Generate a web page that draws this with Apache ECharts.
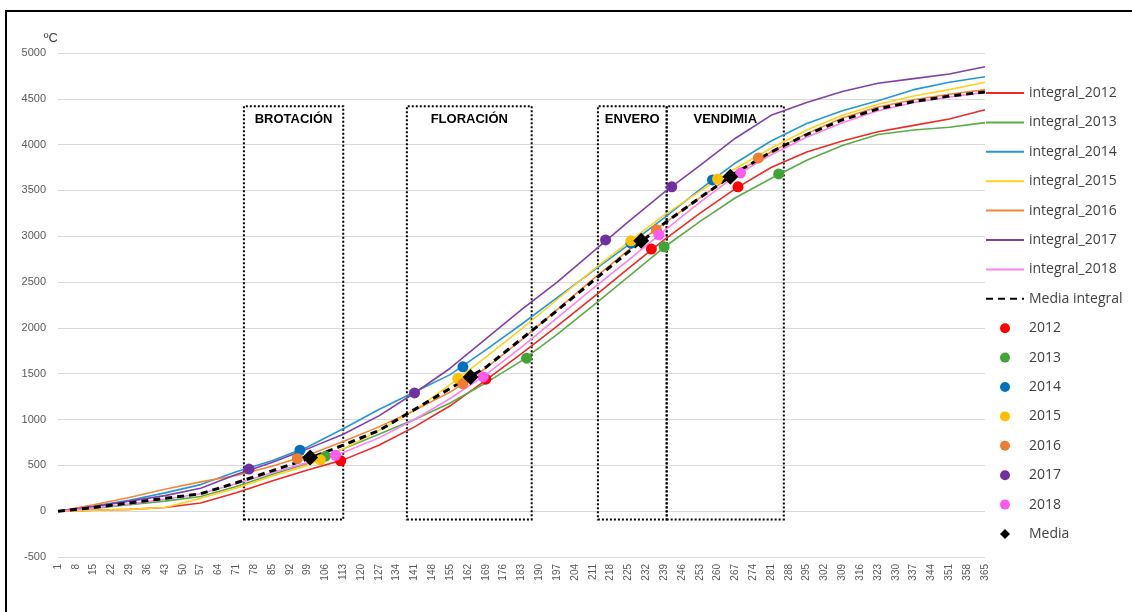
<!DOCTYPE html>
<html>
<head>
<meta charset="utf-8">
<script src="https://cdn.jsdelivr.net/npm/echarts@6/dist/echarts.min.js"></script>
<style>
  html, body { margin: 0; padding: 0; background: #fff; overflow: hidden; }
  #chart { width: 1132px; height: 612px; }
  #frame { position: absolute; left: 5px; top: 10px; width: 1400px; height: 900px;
           border-left: 2px solid #000; border-top: 2px solid #000; pointer-events: none; }
</style>
</head>
<body>
<div id="chart"></div>
<div id="frame"></div>
<script>
// Day of year for the sampled cumulative values
const sampleDays = [1, 15, 29, 43, 57, 71, 85, 99, 113, 127, 141, 155, 169, 183, 197, 211, 225, 239, 253, 267, 281, 295, 309, 323, 337, 351, 365];

// Cumulative thermal integral (ºC) per season
const integral2012 = [0, 10, 20, 40, 90, 200, 330, 450, 560, 720, 920, 1150, 1430, 1720, 2020, 2330, 2650, 2960, 3250, 3520, 3750, 3920, 4040, 4140, 4210, 4280, 4380];
const integral2013 = [0, 30, 70, 110, 160, 270, 400, 520, 680, 840, 1000, 1180, 1400, 1640, 1930, 2240, 2560, 2880, 3160, 3420, 3630, 3830, 3990, 4110, 4160, 4190, 4240];
const integral2014 = [0, 55, 120, 200, 290, 430, 550, 700, 900, 1110, 1300, 1490, 1760, 2040, 2330, 2620, 2905, 3200, 3510, 3800, 4040, 4230, 4370, 4480, 4600, 4680, 4740];
const integral2015 = [0, 10, 20, 40, 140, 250, 380, 500, 680, 880, 1100, 1380, 1680, 1990, 2310, 2630, 2935, 3230, 3490, 3740, 3960, 4160, 4320, 4440, 4530, 4600, 4680];
const integral2016 = [0, 70, 150, 240, 320, 390, 490, 610, 760, 920, 1100, 1300, 1560, 1870, 2200, 2530, 2850, 3140, 3420, 3690, 3920, 4120, 4290, 4410, 4490, 4550, 4600];
const integral2017 = [0, 50, 110, 170, 250, 400, 530, 680, 840, 1040, 1290, 1560, 1880, 2200, 2500, 2830, 3160, 3480, 3770, 4070, 4320, 4460, 4580, 4670, 4720, 4770, 4850];
const integral2018 = [0, 35, 80, 130, 190, 300, 420, 530, 640, 800, 1000, 1230, 1490, 1790, 2110, 2430, 2740, 3060, 3370, 3660, 3890, 4080, 4240, 4370, 4460, 4520, 4570];
const integralMedia = [0, 40, 90, 140, 190, 310, 440, 570, 720, 880, 1110, 1340, 1570, 1880, 2190, 2510, 2830, 3140, 3420, 3690, 3920, 4110, 4270, 4390, 4470, 4530, 4575];

// Phenological stages [day, ºC]: brotación, floración, envero, vendimia
const points2012 = [[112, 550], [169, 1440], [234, 2860], [268, 3540]];
const points2013 = [[106, 600], [185, 1670], [239, 2885], [284, 3680]];
const points2014 = [[96, 665], [160, 1575], [226, 2925], [258, 3615]];
const points2015 = [[104, 560], [158, 1450], [226, 2950], [260, 3625]];
const points2016 = [[95, 575], [160, 1390], [236, 3070], [276, 3855]];
const points2017 = [[76, 460], [141, 1290], [216, 2960], [242, 3540]];
const points2018 = [[110, 610], [168, 1465], [237, 3015], [269, 3690]];
const pointsMedia = [[100, 585], [163, 1465], [230, 2950], [265, 3650]];

// Stage windows [first day, last day]
const stageNames = ['BROTACIÓN', 'FLORACIÓN', 'ENVERO', 'VENDIMIA'];
const stageDays = [[74, 113], [138, 187], [213, 240], [240, 286]];
const stageRange = [-90, 4420];

// Axis
const dayLabels = Array.from({ length: 365 }, (_, i) => String(i + 1));
const yTicks = { min: -500, max: 5000, interval: 500 };

const years = ['2012', '2013', '2014', '2015', '2016', '2017', '2018'];
const lineValues = [integral2012, integral2013, integral2014, integral2015, integral2016, integral2017, integral2018];
const pointValues = [points2012, points2013, points2014, points2015, points2016, points2017, points2018];
const lineColors = ['#ee2a24', '#5aac46', '#2596d6', '#ffd21f', '#f4863a', '#8040a8', '#ff80f0'];
const dotColors = ['#ff0000', '#3fa535', '#0070c0', '#ffc000', '#ed7d31', '#7030a0', '#ff5bf0'];

const toPairs = (vals) => vals.map((v, i) => [String(sampleDays[i]), v]);
const toPoints = (pts) => pts.map(p => [String(p[0]), p[1]]);

const series = [];
years.forEach((y, k) => {
  series.push({
    name: 'integral_' + y, type: 'line', data: toPairs(lineValues[k]),
    symbol: 'none', lineStyle: { width: 1.6, color: lineColors[k] },
    itemStyle: { color: lineColors[k] }, z: 2
  });
});
series.push({
  name: 'Media integral', type: 'line', data: toPairs(integralMedia),
  symbol: 'none', lineStyle: { width: 3, color: '#000', type: [7, 5] },
  itemStyle: { color: '#000' }, z: 3,
  markArea: {
    silent: true,
    itemStyle: { color: 'rgba(0,0,0,0)', borderColor: '#000', borderWidth: 2, borderType: [2, 2] },
    label: { position: 'insideTop', distance: 8, color: '#000', fontWeight: 'bold', fontSize: 13,
             fontFamily: 'Liberation Sans, Arial, sans-serif' },
    data: stageNames.map((n, i) => [
      { name: n, xAxis: String(stageDays[i][0]), yAxis: stageRange[0] },
      { xAxis: String(stageDays[i][1]), yAxis: stageRange[1] }
    ])
  }
});
years.forEach((y, k) => {
  series.push({
    name: y, type: 'scatter', data: toPoints(pointValues[k]),
    symbol: 'circle', symbolSize: 11, itemStyle: { color: dotColors[k], opacity: 1 }, z: 4
  });
});
series.push({
  name: 'Media', type: 'scatter', data: toPoints(pointsMedia),
  symbol: 'diamond', symbolSize: 16, symbolKeepAspect: true,
  itemStyle: { color: '#000', opacity: 1 }, z: 5
});

// Line entries show only their stroke in the legend
const lineLegend = years.map(y => 'integral_' + y).concat(['Media integral'])
  .map(n => ({ name: n, itemStyle: { color: 'rgba(0,0,0,0)', borderWidth: 0, opacity: 0 } }));
const dotLegend = years.map(n => ({ name: n })).concat([
  { name: 'Media', icon: 'path://M5,0 L10,5 L5,10 L0,5 Z' }
]);

const chart = echarts.init(document.getElementById('chart'), null, { renderer: 'canvas' });
chart.setOption({
  animation: false,
  backgroundColor: '#fff',
  textStyle: { fontFamily: 'Liberation Sans, Arial, sans-serif' },
  grid: { left: 58, right: 147, top: 53, bottom: 55 },
  legend: {
    data: lineLegend.concat(dotLegend),
    orient: 'vertical', left: 985, top: 85, padding: 0,
    itemWidth: 38, itemHeight: 10, itemGap: 13.4, symbolKeepAspect: true,
    textStyle: { fontSize: 14, color: '#404040', lineHeight: 16, fontFamily: 'Open Sans, sans-serif' },
    selectedMode: false
  },
  xAxis: {
    type: 'category', data: dayLabels, boundaryGap: false,
    axisLine: { show: false }, axisTick: { show: false },
    axisLabel: { interval: 6, rotate: 90, fontSize: 10, color: '#595959', margin: 7 },
    splitLine: { show: false }
  },
  yAxis: {
    type: 'value', min: yTicks.min, max: yTicks.max, interval: yTicks.interval,
    name: 'ºC', nameGap: 8,
    nameTextStyle: { align: 'right', color: '#404040', fontSize: 13, padding: [0, 0, 0, 0] },
    axisLine: { show: false }, axisTick: { show: false },
    axisLabel: { fontSize: 11, color: '#595959', margin: 12, formatter: v => String(v) },
    splitLine: { lineStyle: { color: '#d9d9d9', width: 1 } }
  },
  series: series
});
</script>
</body>
</html>
